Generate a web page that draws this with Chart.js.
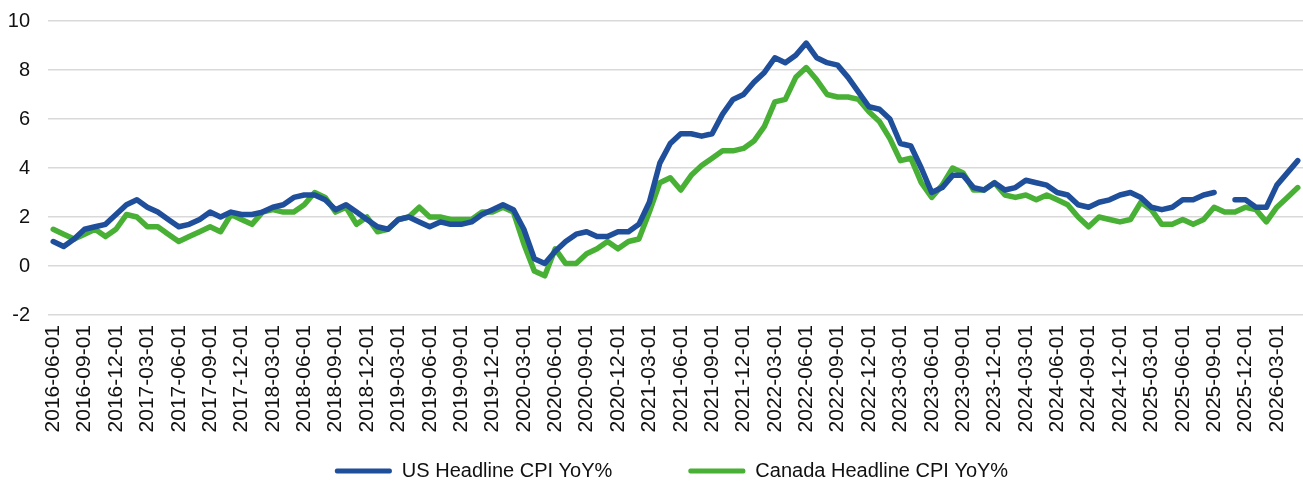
<!DOCTYPE html>
<html>
<head>
<meta charset="utf-8">
<script src="https://cdn.jsdelivr.net/npm/chart.js@4.4.1/dist/chart.umd.min.js"></script>
<style>
html,body{margin:0;padding:0;background:#fff;}
#wrap{width:1303px;height:482px;}
</style>
</head>
<body>
<div id="wrap"><canvas id="c" width="1303" height="482"></canvas></div>
<script>
// Categories: monthly, 2016-06 to 2026-05
const firstYear = 2016, firstMonth = 6, monthCount = 120;
const categories = [];
for (let i = 0; i < monthCount; i++) {
  const k = firstMonth - 1 + i;
  categories.push(`${firstYear + Math.floor(k / 12)}-${String(k % 12 + 1).padStart(2, '0')}-01`);
}

const usCpi = [
  1.0, 0.8, 1.1, 1.5, 1.6, 1.7, 2.1,                          // 2016 Jun-Dec
  2.5, 2.7, 2.4, 2.2, 1.9, 1.6, 1.7, 1.9, 2.2, 2.0, 2.2, 2.1, // 2017
  2.1, 2.2, 2.4, 2.5, 2.8, 2.9, 2.9, 2.7, 2.3, 2.5, 2.2, 1.9, // 2018
  1.6, 1.5, 1.9, 2.0, 1.8, 1.6, 1.8, 1.7, 1.7, 1.8, 2.1, 2.3, // 2019
  2.5, 2.3, 1.5, 0.3, 0.1, 0.6, 1.0, 1.3, 1.4, 1.2, 1.2, 1.4, // 2020
  1.4, 1.7, 2.6, 4.2, 5.0, 5.4, 5.4, 5.3, 5.4, 6.2, 6.8, 7.0, // 2021
  7.5, 7.9, 8.5, 8.3, 8.6, 9.1, 8.5, 8.3, 8.2, 7.7, 7.1, 6.5, // 2022
  6.4, 6.0, 5.0, 4.9, 4.0, 3.0, 3.2, 3.7, 3.7, 3.2, 3.1, 3.4, // 2023
  3.1, 3.2, 3.5, 3.4, 3.3, 3.0, 2.9, 2.5, 2.4, 2.6, 2.7, 2.9, // 2024
  3.0, 2.8, 2.4, 2.3, 2.4, 2.7, 2.7, 2.9, 3.0, null, 2.7, 2.7, // 2025
  2.4, 2.4, 3.3, 3.8, 4.3                                     // 2026 Jan-May
];

const canadaCpi = [
  1.5, 1.3, 1.1, 1.3, 1.5, 1.2, 1.5,                          // 2016 Jun-Dec
  2.1, 2.0, 1.6, 1.6, 1.3, 1.0, 1.2, 1.4, 1.6, 1.4, 2.1, 1.9, // 2017
  1.7, 2.2, 2.3, 2.2, 2.2, 2.5, 3.0, 2.8, 2.2, 2.4, 1.7, 2.0, // 2018
  1.4, 1.5, 1.9, 2.0, 2.4, 2.0, 2.0, 1.9, 1.9, 1.9, 2.2, 2.2, // 2019
  2.4, 2.2, 0.9, -0.2, -0.4, 0.7, 0.1, 0.1, 0.5, 0.7, 1.0, 0.7, // 2020
  1.0, 1.1, 2.2, 3.4, 3.6, 3.1, 3.7, 4.1, 4.4, 4.7, 4.7, 4.8, // 2021
  5.1, 5.7, 6.7, 6.8, 7.7, 8.1, 7.6, 7.0, 6.9, 6.9, 6.8, 6.3, // 2022
  5.9, 5.2, 4.3, 4.4, 3.4, 2.8, 3.3, 4.0, 3.8, 3.1, 3.1, 3.4, // 2023
  2.9, 2.8, 2.9, 2.7, 2.9, 2.7, 2.5, 2.0, 1.6, 2.0, 1.9, 1.8, // 2024
  1.9, 2.6, 2.3, 1.7, 1.7, 1.9, 1.7, 1.9, 2.4, 2.2, 2.2, 2.4, // 2025
  2.3, 1.8, 2.4, 2.8, 3.2                                     // 2026 Jan-May
];

const yTicks = { min: -2, max: 10, step: 2 };
const seriesNames = ['US Headline CPI YoY%', 'Canada Headline CPI YoY%'];
const seriesColors = ['#1f4e9a', '#48b034'];

Chart.defaults.font.family = '"Liberation Sans", Arial, sans-serif';
Chart.defaults.color = '#111';

// Legend placement: keep the built-in legend but set its final position
const legendPlacement = {
  id: 'legendPlacement',
  beforeDraw(chart) {
    const lg = chart.legend;
    if (!lg) return;
    lg.top = 385;
    lg.left = 20;
    lg.right = 1303 + 20;
  }
};

new Chart(document.getElementById('c'), {
  type: 'line',
  data: {
    labels: categories,
    datasets: [
      { label: seriesNames[0], data: usCpi, borderColor: seriesColors[0], backgroundColor: seriesColors[0],
        borderWidth: 5.5, pointRadius: 0, tension: 0, spanGaps: false, borderJoinStyle: 'round', borderCapStyle: 'round' },
      { label: seriesNames[1], data: canadaCpi, borderColor: seriesColors[1], backgroundColor: seriesColors[1],
        borderWidth: 5.5, pointRadius: 0, tension: 0, spanGaps: false, borderJoinStyle: 'round', borderCapStyle: 'round' }
    ]
  },
  plugins: [legendPlacement],
  options: {
    responsive: false,
    devicePixelRatio: 1,
    animation: false,
    layout: { padding: { left: 6, right: 0, top: 21, bottom: 0 } },
    scales: {
      x: {
        type: 'category',
        offset: true,
        grid: { display: false, drawTicks: false },
        border: { display: false },
        ticks: {
          autoSkip: false,
          minRotation: 90,
          maxRotation: 90,
          padding: 10,
          font: { size: 21 },
          color: '#111',
          callback: function (value, index) { return index % 3 === 0 ? this.getLabelForValue(value) : null; }
        },
        afterFit: function (scale) { scale.height = 118; scale.paddingLeft = 0; scale.paddingRight = 0; }
      },
      y: {
        min: yTicks.min,
        max: yTicks.max,
        grid: { color: '#d9d9d9', lineWidth: 1.5, drawTicks: false },
        border: { display: false },
        ticks: { stepSize: yTicks.step, padding: 18, font: { size: 20 }, color: '#111' },
        afterFit: function (scale) { scale.width = 42; scale.paddingTop = 0; scale.paddingBottom = 0; }
      }
    },
    plugins: {
      tooltip: { enabled: false },
      legend: {
        position: 'bottom',
        maxHeight: 49,
        labels: {
          boxWidth: 57,
          boxHeight: 5,
          padding: 76,
          font: { size: 20 },
          color: '#111',
          generateLabels: function (chart) {
            const items = Chart.defaults.plugins.legend.labels.generateLabels(chart);
            items.forEach(it => { it.lineWidth = 0; it.fillStyle = it.strokeStyle; it.borderRadius = 2; });
            return items;
          }
        }
      }
    }
  }
});
</script>
</body>
</html>
